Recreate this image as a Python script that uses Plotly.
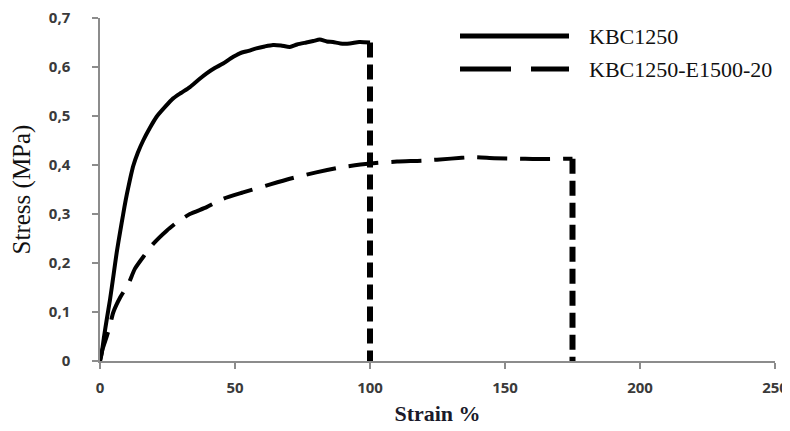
import plotly.graph_objects as go

# ---- data ----
kbc_strain = [0, 0.6, 1.5, 2.5, 3.7, 5, 6.2, 7.5, 8.6, 9.5, 10.5, 11.5, 12.3, 14, 16, 18.5, 20.9,
              24, 27.1, 30, 33.3, 36.5, 39.5, 42.5, 45.6, 48.5, 51.8, 55, 57.9, 61, 64.1, 67,
              70.3, 73, 76.4, 79, 81.4, 84, 86.3, 89, 92.5, 96, 100]
kbc_stress = [0, 0.015, 0.05, 0.085, 0.125, 0.175, 0.222, 0.265, 0.300, 0.328, 0.355, 0.38,
              0.398, 0.425, 0.45, 0.476, 0.498, 0.518, 0.536, 0.547, 0.559, 0.574, 0.587,
              0.598, 0.607, 0.618, 0.628, 0.633, 0.638, 0.642, 0.645, 0.644, 0.641, 0.646,
              0.650, 0.653, 0.656, 0.652, 0.651, 0.648, 0.648, 0.651, 0.650]

e15_strain = [0, 1, 2.5, 3.7, 4.9, 7.5, 10.5, 12.9, 16.5, 19.7, 24.7, 29, 33.3, 39.5, 45.6,
              53, 61.6, 70.3, 80.1, 90, 100, 110, 119.6, 130, 138.1, 146, 155.3, 165, 175]
e15_stress = [0, 0.025, 0.05, 0.073, 0.099, 0.13, 0.157, 0.188, 0.216, 0.239, 0.266, 0.285,
              0.300, 0.314, 0.331, 0.344, 0.358, 0.372, 0.385, 0.396, 0.403, 0.407, 0.409,
              0.413, 0.416, 0.414, 0.413, 0.412, 0.413]

series_names = ["KBC1250", "KBC1250-E1500-20"]
x_ticks = [0, 50, 100, 150, 200, 250]
y_ticks = [0, 0.1, 0.2, 0.3, 0.4, 0.5, 0.6, 0.7]
y_tick_labels = ["0", "0,1", "0,2", "0,3", "0,4", "0,5", "0,6", "0,7"]

# ---- figure ----
fig = go.Figure()
fig.add_trace(go.Scatter(x=kbc_strain, y=kbc_stress, mode="lines", name=series_names[0],
                         line=dict(color="#000000", width=4, shape="spline", smoothing=0.6),
                         showlegend=False))
fig.add_trace(go.Scatter(x=e15_strain, y=e15_stress, mode="lines", name=series_names[1],
                         line=dict(color="#000000", width=4, dash="30px,13px",
                                   shape="spline", smoothing=0.6),
                         showlegend=False))
# failure drops
for xs, ys in ((kbc_strain, kbc_stress), (e15_strain, e15_stress)):
    fig.add_trace(go.Scatter(x=[xs[-1], xs[-1]], y=[ys[-1], 0], mode="lines",
                             line=dict(color="#000000", width=6, dash="15px,7px"),
                             showlegend=False, hoverinfo="skip"))

# page body has an 8px margin: figure sits at (8, 8) in the 790x431 window
OFF = 8
W, H = 790, 431 - OFF
L, T = 100 - OFF, 18 - OFF
R, B = 15 + OFF, 70
pw, ph = W - L - R, H - T - B

def px(xs):  # screen x -> paper
    return (xs - OFF - L) / pw

def py(ys):  # screen y -> paper
    return (T + ph - (ys - OFF)) / ph

# legend (drawn manually to match long legend line samples)
leg_rows = [(36, None), (69, "51px,20px")]
for (ypix, dash), name in zip(leg_rows, series_names):
    fig.add_shape(type="line", xref="paper", yref="paper",
                  x0=px(460), x1=px(569), y0=py(ypix), y1=py(ypix),
                  line=dict(color="#000000", width=5, dash=dash))
    fig.add_annotation(xref="paper", yref="paper", x=px(587), y=py(ypix),
                       text=name, showarrow=False, xanchor="left", yanchor="middle",
                       font=dict(family="Liberation Serif", size=22, color="#111111"))

axis_common = dict(showgrid=False, zeroline=False, showline=True, linecolor="#8c8c8c",
                   linewidth=1.5, ticks="outside", ticklen=6, tickcolor="#8c8c8c",
                   tickwidth=1.5, automargin=False, ticklabeloverflow="allow",
                   tickfont=dict(family="Open Sans", size=15, color="#3a3a3a", weight="bold"))

fig.update_layout(
    width=W, height=H,
    margin=dict(l=L, r=R, t=T, b=B),
    paper_bgcolor="white", plot_bgcolor="white",
    showlegend=False,
    xaxis=dict(range=[0, 250], tickvals=x_ticks, ticklabelstandoff=6,
               title=dict(text="Strain %", standoff=10,
                          font=dict(family="Liberation Serif", size=22, color="#1a1a2a",
                                    weight="bold")),
               **axis_common),
    yaxis=dict(range=[0, 0.7], tickvals=y_ticks, ticktext=y_tick_labels,
               ticklabelstandoff=19,
               title=dict(text="Stress (MPa)", standoff=12,
                          font=dict(family="Liberation Serif", size=25, color="#111111")),
               **axis_common),
)

fig.write_html("out.html")
